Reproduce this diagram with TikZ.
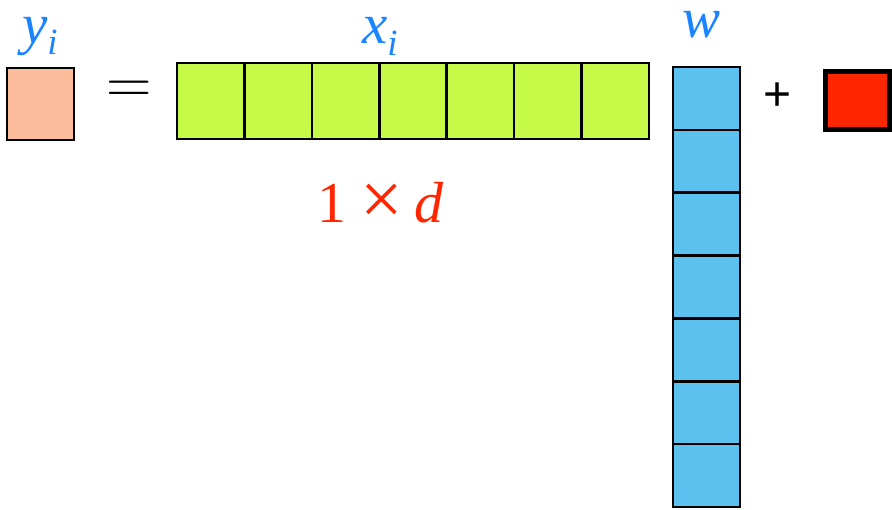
\documentclass[tikz,border=0pt]{standalone}
\usepackage{graphicx}
\usepackage{fontspec}
\newfontfamily\timesf{Liberation Serif}
\newfontfamily\sansf{Liberation Sans}
\definecolor{pinkc}{HTML}{FBBD9B}
\definecolor{greenc}{HTML}{C6FA48}
\definecolor{bluec}{HTML}{5BC2F0}
\definecolor{redc}{HTML}{FF2600}
\definecolor{lblue}{HTML}{1A85FF}
\definecolor{lred}{HTML}{FF2600}
\begin{document}
\begin{tikzpicture}[x=1pt,y=-1pt,
  cellbox/.style={draw=black, line width=2.5pt, inner sep=0pt, outer sep=0pt, anchor=north west},
  gcell/.style={cellbox, fill=greenc, minimum width=67.43pt, minimum height=76pt},
  bcell/.style={cellbox, fill=bluec, minimum width=67pt, minimum height=62.86pt},
  lbl/.style={inner sep=0pt, outer sep=0pt, anchor=base west, text=lblue, font=\timesf\itshape\fontsize{57}{57}\selectfont},
  op/.style={inner sep=0pt, outer sep=0pt}
]
\useasboundingbox (0,0) rectangle (892,509);
% y_i box
\node[cellbox, fill=pinkc, minimum width=67pt, minimum height=72pt] (ybox) at (7,68) {};
% equals
\node[op, font=\fontsize{63}{63}\selectfont] (eq) at (129,92.5) {=};
% x_i row
\foreach \i in {0,...,6}
  \node[gcell] (x\i) at ({177+67.43*\i},63) {};
% w column
\foreach \i in {0,...,6}
  \node[bcell] (w\i) at (673,{67+62.86*\i}) {};
% plus
\node[op, font=\sansf\fontsize{48}{48}\selectfont] (plus) at (778,96.5) {+};
% bias box
\node[cellbox, draw=black, line width=5pt, fill=redc, minimum width=64pt, minimum height=58pt] (bbox) at (825.5,71.5) {};
% labels
\node[lbl] (ylab) at (22,43) {y\raisebox{-11pt}{\fontsize{37}{37}\selectfont i}};
\node[lbl] (xlab) at (362,43) {x\raisebox{-12pt}{\fontsize{37}{37}\selectfont i}};
\node[lbl] (wlab) at (682,37) {w};
\node[lbl, text=lred, font=\timesf\fontsize{58}{58}\selectfont] (dim) at (317,222) {1\hspace{14pt}\raisebox{-2pt}{\scalebox{1.3}{×}}\hspace{12pt}{\itshape d}};
\end{tikzpicture}
\end{document}
